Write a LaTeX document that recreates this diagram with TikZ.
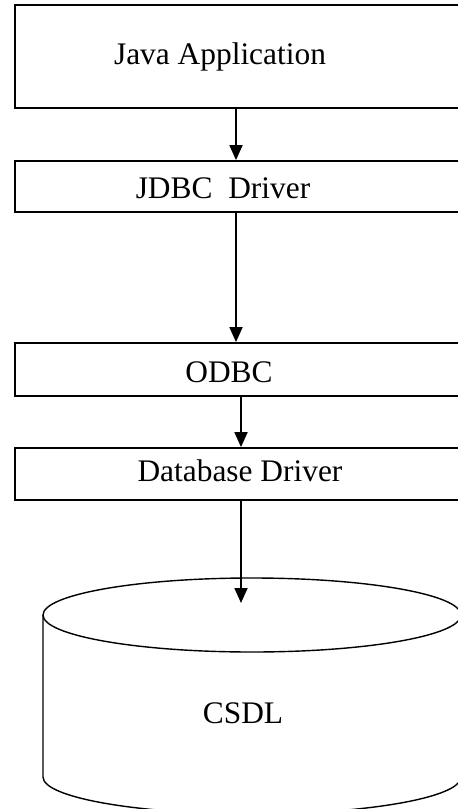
\documentclass[tikz,border=0pt]{standalone}
\usepackage{fontspec}
\setmainfont{Liberation Serif}
\usetikzlibrary{arrows.meta}
\tikzset{
	box/.style = {draw, line width=1.8pt, minimum width=455, inner sep=0pt},
	flow/.style = {-{Triangle[width=13pt,length=15pt]}, line width=1.8pt},
}
\begin{document}
\begin{tikzpicture}[x=1pt, y=1pt, font=\fontsize{31.4}{38}\selectfont]
	\useasboundingbox (0,0) rectangle (458,-809);
	\clip (0,0) rectangle (458,-809);

	\node[box, minimum height=103, label={[xshift=-22.5]center:Java Application}] (java) at (242.5,-56.5) {};
	\node[box, minimum height=51, label={[xshift=-19.5, yshift=-1.5]center:JDBC\ \ Driver}] (jdbc) at (242.5,-186.5) {};
	\node[box, minimum height=53, label={[xshift=-13.5, yshift=-2.5]center:ODBC}] (odbc) at (242.5,-369.5) {};
	\node[box, minimum height=52, label={[xshift=-2.5, yshift=3]center:Database Driver}] (dbdrv) at (242.5,-474) {};

	% the database
	\draw[line width=1.4pt] (252,-615) ellipse[x radius=209, y radius=37];
	\draw[line width=1.4pt] (43,-615) -- (43,-777) arc[start angle=180, end angle=360, x radius=209, y radius=37] -- (461,-615);
	\node (csdl) at (243,-713.5) {CSDL};
	\coordinate (dbtop) at (241,-603);

	\draw[flow] (java.south -| 236,0) -- (jdbc.north -| 236,0);
	\draw[flow] (jdbc.south -| 236,0) -- (odbc.north -| 236,0);
	\draw[flow] (odbc.south -| 241,0) -- (dbdrv.north -| 241,0);
	\draw[flow] (dbdrv.south -| 241,0) -- (dbtop);
\end{tikzpicture}
\end{document}
